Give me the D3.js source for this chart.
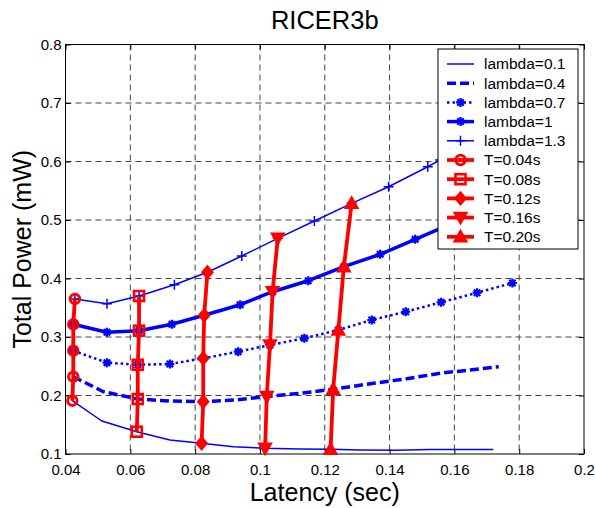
<!DOCTYPE html>
<html>
<head>
<meta charset="utf-8">
<script src="https://cdn.jsdelivr.net/npm/d3@7"></script>
<style>
  body { margin: 0; background: #fff; }
  svg { font-family: "Liberation Sans", Arial, Helvetica, sans-serif; }
</style>
</head>
<body>
<div id="chart"></div>
<script>
// blue curves: [latency, power]
const lambda01 = [[0.0421, 0.1911], [0.0512, 0.1564], [0.0620, 0.1381], [0.0722, 0.1239], [0.0820, 0.1183],
    [0.0918, 0.1125], [0.1016, 0.1097], [0.1124, 0.1086], [0.1218, 0.1080], [0.1309, 0.1070],
    [0.1417, 0.1065], [0.1525, 0.1075], [0.1633, 0.1077], [0.1720, 0.1077]];
const lambda04 = [[0.0424, 0.2321], [0.0517, 0.2065], [0.0623, 0.1940], [0.0722, 0.1906], [0.0825, 0.1894],
    [0.0923, 0.1923], [0.1021, 0.1983], [0.1124, 0.2038], [0.1226, 0.2106], [0.1350, 0.2209],
    [0.1453, 0.2287], [0.1556, 0.2380], [0.1648, 0.2436], [0.1737, 0.2492]];
const lambda07 = [[0.0424, 0.2766], [0.0528, 0.2561], [0.0623, 0.2526], [0.0722, 0.2538], [0.0825, 0.2636],
    [0.0933, 0.2749], [0.1031, 0.2863], [0.1137, 0.2978], [0.1242, 0.3120], [0.1345, 0.3291],
    [0.1450, 0.3432], [0.1559, 0.3593], [0.1670, 0.3757], [0.1779, 0.3923]];
const lambda10 = [[0.0424, 0.3217], [0.0528, 0.3080], [0.0627, 0.3108], [0.0728, 0.3217], [0.0828, 0.3371],
    [0.0939, 0.3552], [0.1039, 0.3774], [0.1149, 0.3962], [0.1259, 0.4202], [0.1371, 0.4414],
    [0.1479, 0.4670], [0.1586, 0.4927]];
const lambda13 = [[0.0429, 0.3650], [0.0528, 0.3569], [0.0627, 0.3701], [0.0736, 0.3894], [0.0838, 0.4106],
    [0.0944, 0.4385], [0.1055, 0.4687], [0.1168, 0.4983], [0.1283, 0.5285], [0.1397, 0.5569],
    [0.1518, 0.5911], [0.1556, 0.6026]];

// red curves (constant T)
const t004 = [[0.0421, 0.1911], [0.0424, 0.2321], [0.0424, 0.2766], [0.0424, 0.3217], [0.0429, 0.3650]];
const t008 = [[0.0620, 0.1381], [0.0623, 0.1940], [0.0623, 0.2526], [0.0627, 0.3108], [0.0627, 0.3701]];
const t012 = [[0.0820, 0.1183], [0.0825, 0.1894], [0.0825, 0.2636], [0.0828, 0.3371], [0.0838, 0.4106]];
const t016 = [[0.1016, 0.1097], [0.1021, 0.1983], [0.1031, 0.2863], [0.1039, 0.3774], [0.1055, 0.4687]];
const t020 = [[0.1218, 0.1080], [0.1226, 0.2106], [0.1242, 0.3120], [0.1259, 0.4202], [0.1283, 0.5285]];

const xTicks = [0.04, 0.06, 0.08, 0.1, 0.12, 0.14, 0.16, 0.18, 0.2];
const yTicks = [0.1, 0.2, 0.3, 0.4, 0.5, 0.6, 0.7, 0.8];

const series = [
    { name: 'lambda=0.1', data: lambda01, color: '#0000ff', width: 1.5, dash: null, marker: null },
    { name: 'lambda=0.4', data: lambda04, color: '#0000ff', width: 3.5, dash: '9,4', marker: null },
    { name: 'lambda=0.7', data: lambda07, color: '#0000ff', width: 2.5, dash: '2.5,3', marker: 'star' },
    { name: 'lambda=1', data: lambda10, color: '#0000ff', width: 3.5, dash: null, marker: 'star' },
    { name: 'lambda=1.3', data: lambda13, color: '#0000ff', width: 1.5, dash: null, marker: 'plus' },
    { name: 'T=0.04s', data: t004, color: '#ff0000', width: 3.8, dash: null, marker: 'circle' },
    { name: 'T=0.08s', data: t008, color: '#ff0000', width: 3.8, dash: null, marker: 'square' },
    { name: 'T=0.12s', data: t012, color: '#ff0000', width: 3.8, dash: null, marker: 'diamond' },
    { name: 'T=0.16s', data: t016, color: '#ff0000', width: 3.8, dash: null, marker: 'tridown' },
    { name: 'T=0.20s', data: t020, color: '#ff0000', width: 3.8, dash: null, marker: 'triup' }
];

const width = 596, height = 508;
const plotL = 65.5, plotR = 584, plotT = 44.5, plotB = 454;

const svg = d3.select('#chart').append('svg')
    .attr('width', width)
    .attr('height', height);

const x = d3.scaleLinear().domain([0.04, 0.2]).range([plotL, plotR]);
const y = d3.scaleLinear().domain([0.1, 0.8]).range([plotB, plotT]);

// grid
const grid = svg.append('g')
    .attr('stroke', '#444')
    .attr('stroke-width', 1)
    .attr('stroke-dasharray', '6,4');
grid.selectAll('.vg')
    .data(xTicks.slice(1, -1))
    .enter()
    .append('line')
    .attr('x1', (d) => x(d)).attr('x2', (d) => x(d))
    .attr('y1', plotT).attr('y2', plotB);
grid.selectAll('.hg')
    .data(yTicks.slice(1, -1))
    .enter()
    .append('line')
    .attr('x1', plotL).attr('x2', plotR)
    .attr('y1', (d) => y(d)).attr('y2', (d) => y(d));

// axes (MATLAB style, inward ticks)
function styleAxis(g) {
    g.select('.domain').remove();
    g.selectAll('.tick line').attr('stroke', '#000');
    g.selectAll('.tick text').attr('fill', '#000').style('font-size', '15px');
}
const fmt = (d) => String(d);
svg.append('g')
    .attr('transform', `translate(0,${plotB})`)
    .call(d3.axisBottom(x).tickValues(xTicks).tickFormat(fmt).tickSize(-5).tickPadding(10))
    .call(styleAxis);
svg.append('g')
    .attr('transform', `translate(${plotL},0)`)
    .call(d3.axisLeft(y).tickValues(yTicks).tickFormat(fmt).tickSize(-5).tickPadding(4))
    .call(styleAxis);
svg.append('g')
    .attr('transform', `translate(0,${plotT})`)
    .call(d3.axisTop(x).tickValues(xTicks).tickFormat('').tickSize(-5))
    .call(styleAxis);
svg.append('g')
    .attr('transform', `translate(${plotR},0)`)
    .call(d3.axisRight(y).tickValues(yTicks).tickFormat('').tickSize(-5))
    .call(styleAxis);

svg.append('rect')
    .attr('x', plotL).attr('y', plotT)
    .attr('width', plotR - plotL).attr('height', plotB - plotT)
    .attr('fill', 'none')
    .attr('stroke', '#000')
    .attr('stroke-width', 1);

// markers
function drawMarker(g, type, cx, cy, color) {
    const m = g.append('g').attr('transform', `translate(${cx},${cy})`);
    if (type === 'circle') {
        m.append('circle').attr('r', 4.8).attr('fill', 'none')
            .attr('stroke', color).attr('stroke-width', 2.8);
    } else if (type === 'square') {
        m.append('rect').attr('x', -5).attr('y', -5).attr('width', 10).attr('height', 10)
            .attr('fill', 'none').attr('stroke', color).attr('stroke-width', 2.6);
    } else if (type === 'diamond') {
        m.append('path').attr('d', 'M0,-6.5L5.5,0L0,6.5L-5.5,0Z')
            .attr('fill', color).attr('stroke', color).attr('stroke-width', 1.5);
    } else if (type === 'tridown') {
        m.append('path').attr('d', 'M-6.5,-5L6.5,-5L0,6.5Z')
            .attr('fill', color).attr('stroke', color).attr('stroke-width', 1.5);
    } else if (type === 'triup') {
        m.append('path').attr('d', 'M-6.5,5L6.5,5L0,-6.5Z')
            .attr('fill', color).attr('stroke', color).attr('stroke-width', 1.5);
    } else if (type === 'star') {
        m.append('path').attr('d', 'M0,-4.5L0,4.5M-4.5,0L4.5,0M-3.2,-3.2L3.2,3.2M-3.2,3.2L3.2,-3.2')
            .attr('stroke', color).attr('stroke-width', 2.2).attr('fill', 'none');
    } else if (type === 'plus') {
        m.append('path').attr('d', 'M0,-5L0,5M-5,0L5,0')
            .attr('stroke', color).attr('stroke-width', 1.5).attr('fill', 'none');
    }
}

const lineGen = d3.line()
    .x((d) => x(d[0]))
    .y((d) => y(d[1]));

const plot = svg.append('g');
series.forEach((s) => {
    const g = plot.append('g');
    g.append('path')
        .attr('d', lineGen(s.data))
        .attr('fill', 'none')
        .attr('stroke', s.color)
        .attr('stroke-width', s.width)
        .attr('stroke-dasharray', s.dash)
        .attr('stroke-linejoin', 'round');
    if (s.marker) {
        s.data.forEach((d) => drawMarker(g, s.marker, x(d[0]), y(d[1]), s.color));
    }
});

// legend
const legX = 438, legY = 49, legW = 140, legH = 200, rowH = 19.2;
const legend = svg.append('g');
legend.append('rect')
    .attr('x', legX).attr('y', legY)
    .attr('width', legW).attr('height', legH)
    .attr('fill', '#fff')
    .attr('stroke', '#000')
    .attr('stroke-width', 1);
series.forEach((s, i) => {
    const cy = legY + 15 + i * rowH;
    const row = legend.append('g');
    row.append('line')
        .attr('x1', legX + 9).attr('x2', legX + 36)
        .attr('y1', cy).attr('y2', cy)
        .attr('stroke', s.color)
        .attr('stroke-width', s.width)
        .attr('stroke-dasharray', s.dash);
    if (s.marker) drawMarker(row, s.marker, legX + 22.5, cy, s.color);
    row.append('text')
        .attr('x', legX + 46).attr('y', cy)
        .attr('dy', '0.35em')
        .style('font-size', '15.5px')
        .text(s.name);
});

// titles
svg.append('text')
    .attr('x', (plotL + plotR) / 2).attr('y', 29)
    .attr('text-anchor', 'middle')
    .style('font-size', '25.5px')
    .text('RICER3b');
svg.append('text')
    .attr('x', (plotL + plotR) / 2).attr('y', 501)
    .attr('text-anchor', 'middle')
    .style('font-size', '25px')
    .text('Latency (sec)');
svg.append('text')
    .attr('transform', `translate(31,${(plotT + plotB) / 2}) rotate(-90)`)
    .attr('text-anchor', 'middle')
    .style('font-size', '25px')
    .text('Total Power (mW)');
</script>
</body>
</html>
